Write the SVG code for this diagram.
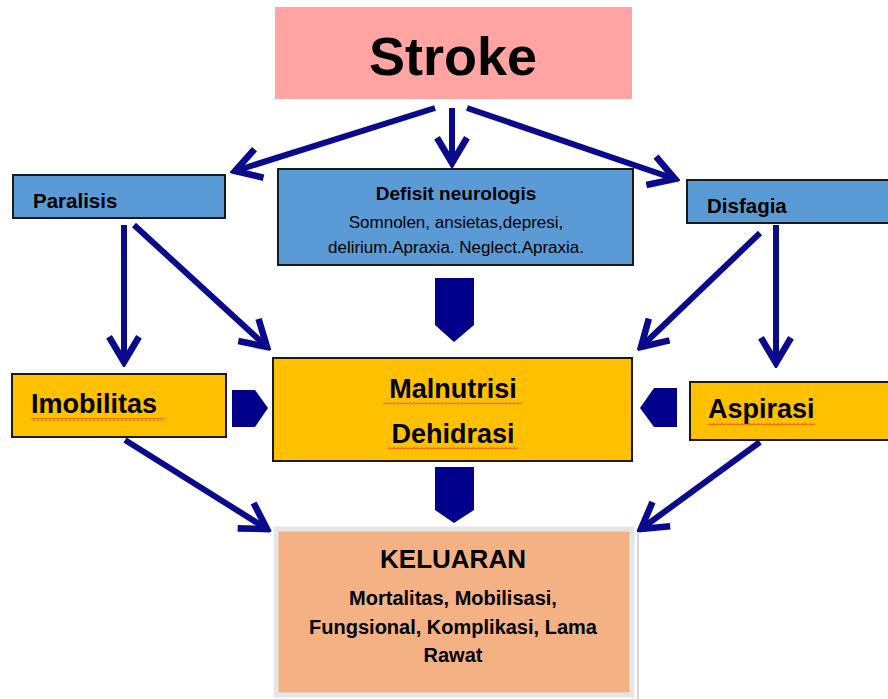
<svg xmlns="http://www.w3.org/2000/svg" width="888" height="699" viewBox="0 0 888 699">
<style>
.box{stroke:#1a1a1a;stroke-width:2}
.blue{fill:#5B9BD5}
.yel{fill:#FFC000}
.t{font-family:"Liberation Sans",Arial,sans-serif;fill:#000}
.b{font-weight:bold}
.c{text-anchor:middle}
.ln{stroke:#0A0A8C;stroke-width:6;fill:none;marker-end:url(#ah)}
.chev{fill:#00008B}
</style>
<defs>
<marker id="ah" markerUnits="userSpaceOnUse" markerWidth="36" markerHeight="36" viewBox="0 0 30 30" refX="26" refY="15" orient="auto">
<path d="M5,2.5 L26,15 L5,27.5" fill="none" stroke="#0A0A8C" stroke-width="5.5" stroke-linejoin="miter"/>
</marker>
<pattern id="sq" width="4" height="3" patternUnits="userSpaceOnUse">
<path d="M0,2.5 L2,0.5 L4,2.5" fill="none" stroke="#e02020" stroke-width="0.9"/>
</pattern>
</defs>
<rect width="888" height="699" fill="#fff"/>

<g id="connectors">
<line class="ln" x1="435" y1="108" x2="235" y2="171"/>
<line class="ln" x1="452" y1="108" x2="452" y2="163"/>
<line class="ln" x1="467" y1="108" x2="675" y2="179"/>
<line class="ln" x1="124" y1="225" x2="124" y2="362"/>
<line class="ln" x1="134" y1="225" x2="267" y2="347"/>
<line class="ln" x1="760" y1="233" x2="641" y2="347"/>
<line class="ln" x1="776" y1="225" x2="776" y2="363"/>
<line class="ln" x1="125" y1="440" x2="267" y2="529"/>
<line class="ln" x1="760" y1="442" x2="641" y2="529"/>
<path class="chev" d="M435,278 H474 V325 L454,342 L435,325 Z"/>
<path class="chev" d="M435,467 H474 V510 L454,523 L435,510 Z"/>
<path class="chev" d="M232,390 H255 L268,408 L255,427 H232 Z"/>
<path class="chev" d="M677,388 H654 L640,408 L654,427 H677 Z"/>
</g>

<g id="stroke">
<rect x="275" y="7" width="357" height="92" fill="#FFA3A3"/>
<text class="t b c" x="453" y="75" font-size="54">Stroke</text>
</g>

<g id="paralisis">
<rect class="box blue" x="13" y="175" width="212" height="43"/>
<text class="t b" x="33" y="208" font-size="20.5">Paralisis</text>
</g>

<g id="defisit">
<rect class="box blue" x="278" y="169" width="355" height="96"/>
<text class="t b c" x="456" y="200" font-size="19">Defisit neurologis</text>
<text class="t c" x="456" y="228" font-size="17">Somnolen, ansietas,depresi,</text>
<text class="t c" x="456" y="253" font-size="17">delirium.Apraxia. Neglect.Apraxia.</text>
</g>

<g id="disfagia">
<rect class="box blue" x="687" y="180" width="210" height="43"/>
<text class="t b" x="707" y="213" font-size="20.5">Disfagia</text>
</g>

<g id="imobilitas">
<rect class="box yel" x="12" y="374" width="214" height="63"/>
<text class="t b" x="31" y="413" font-size="27">Imobilitas</text>
<rect x="31" y="418" width="134" height="3" fill="url(#sq)"/>
</g>

<g id="malnutrisi">
<rect class="box yel" x="273" y="358" width="359" height="103"/>
<text class="t b c" x="453" y="398" font-size="27">Malnutrisi</text>
<rect x="383" y="402" width="139" height="3" fill="url(#sq)"/>
<text class="t b c" x="453" y="443" font-size="27">Dehidrasi</text>
<rect x="388" y="447" width="130" height="3" fill="url(#sq)"/>
</g>

<g id="aspirasi">
<rect class="box yel" x="690" y="382" width="210" height="58"/>
<text class="t b" x="708" y="418" font-size="27">Aspirasi</text>
<rect x="708" y="423" width="107" height="3" fill="url(#sq)"/>
</g>

<g id="keluaran">
<rect x="276" y="529" width="356" height="166" fill="#F4B183" stroke="#e6e6e6" stroke-width="5"/>
<line x1="638" y1="532" x2="638" y2="699" stroke="#d8d8d8" stroke-width="2"/>
<text class="t b c" x="453" y="568" font-size="26">KELUARAN</text>
<text class="t b c" x="453" y="605" font-size="20">Mortalitas, Mobilisasi,</text>
<text class="t b c" x="453" y="634" font-size="20">Fungsional, Komplikasi, Lama</text>
<text class="t b c" x="453" y="662" font-size="20">Rawat</text>
</g>
</svg>
